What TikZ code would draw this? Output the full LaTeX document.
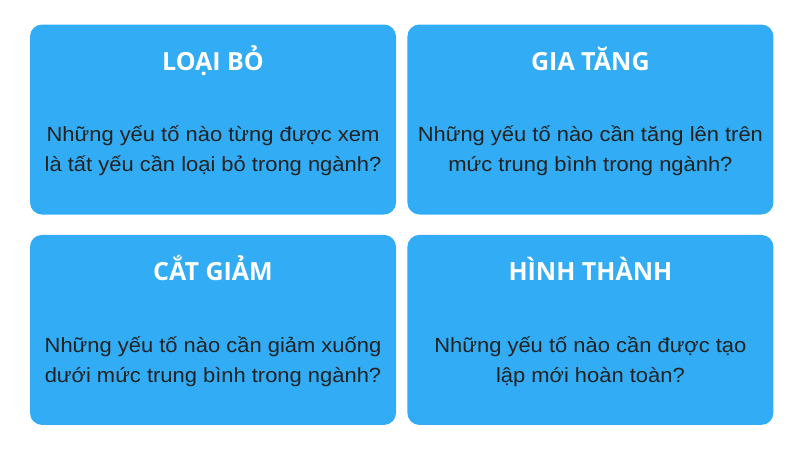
\documentclass[tikz,border=0pt]{standalone}
\usepackage{fontspec}
\setmainfont{Liberation Sans}
\newfontfamily\titlefont{Open Sans}
\newfontfamily\bodyfont[FakeStretch=1.07]{Liberation Sans}
\usetikzlibrary{positioning}
\definecolor{cardblue}{RGB}{50,172,245}
\definecolor{textgray}{RGB}{34,34,34}

\begin{document}
\begin{tikzpicture}[x=1pt,y=-1pt,
    card/.style={fill=cardblue,rounded corners=12pt,inner sep=0pt,
                 minimum width=366pt,minimum height=190pt},
    heading/.style={anchor=base,text=white,
                    font=\titlefont\bfseries\fontsize{25}{28}\selectfont},
    question/.style={anchor=base,text=textgray,align=center,
                     font=\bodyfont\fontsize{20.5}{30}\selectfont}]

  \useasboundingbox (0,0) rectangle (800,450);

  \node[card] (A) at (213,119.5)         {};
  \node[card] (B) [right=11pt of A]      {};
  \node[card] (C) [below=20pt of A]      {};
  \node[card] (D) [right=11pt of C]      {};

  \node[heading] (At) at ([yshift=-46pt]A.north) {LOẠI BỎ};
  \node[heading] (Bt) at ([yshift=-46pt]B.north) {GIA TĂNG};
  \node[heading] (Ct) at ([yshift=-46pt]C.north) {CẮT GIẢM};
  \node[heading] (Dt) at ([yshift=-46pt]D.north) {HÌNH THÀNH};

  % base anchor sits on the last line
  \node[question] (Aq) at ([yshift=-147.5pt]A.north)
    {Những yếu tố nào từng được xem\\là tất yếu cần loại bỏ trong ngành?};
  \node[question] (Bq) at ([yshift=-147.5pt]B.north)
    {Những yếu tố nào cần tăng lên trên\\mức trung bình trong ngành?};
  \node[question] (Cq) at ([yshift=-147.5pt]C.north)
    {Những yếu tố nào cần giảm xuống\\dưới mức trung bình trong ngành?};
  \node[question] (Dq) at ([yshift=-147.5pt]D.north)
    {Những yếu tố nào cần được tạo\\lập mới hoàn toàn?};
\end{tikzpicture}
\end{document}
